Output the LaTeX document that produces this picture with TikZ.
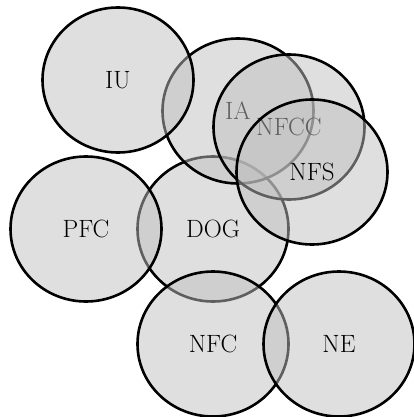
\documentclass[tikz,border=0pt]{standalone}
\usepackage{fontspec}
\usepackage{tikz}
\usetikzlibrary{shapes.geometric}

\begin{document}
\begin{tikzpicture}[x=1pt,y=-1pt,
    bubble/.style={ellipse, draw=black, line width=2.6pt, fill=black!25,
        fill opacity=0.5, draw opacity=1, text opacity=1,
        minimum width=151pt, minimum height=145pt, inner sep=0pt,
        font=\fontsize{25}{29}\selectfont}]
\useasboundingbox (0,0) rectangle (413,417);
% lower circles first, later ones lie on top
\node[bubble] (dog) at (213,229) {DOG};
\node[bubble] (pfc) at (86,229) {PFC};
\node[bubble] (nfc) at (213,344) {NFC};
\node[bubble] (ne) at (339,344) {NE};
% upper group
\node[bubble] (ia) at (238,111) {IA};
\node[bubble] (iu) at (118,80) {IU};
\node[bubble] (nfcc) at (289,127) {NFCC};
\node[bubble] (nfs) at (312,172) {NFS};
\end{tikzpicture}
\end{document}
